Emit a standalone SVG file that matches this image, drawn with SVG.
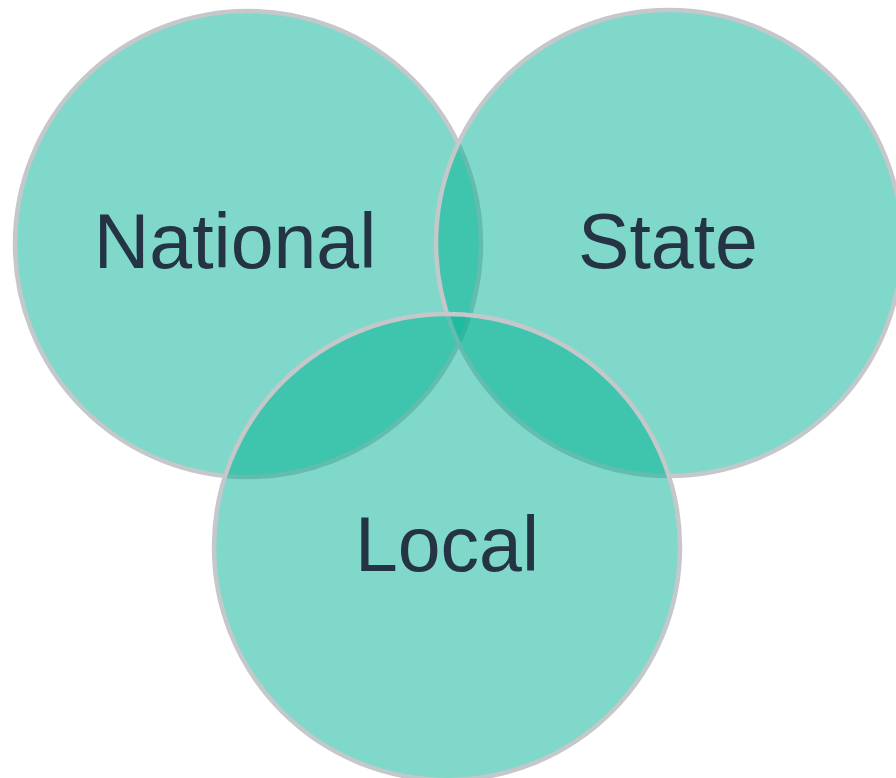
<svg xmlns="http://www.w3.org/2000/svg" width="896" height="778" viewBox="0 0 896 778">
  <style>
    .c { fill: #00B293; fill-opacity: 0.5; stroke: #C4C8CA; stroke-width: 4.5; }
    .t { font-family: "Liberation Sans", Arial, sans-serif; font-size: 77px; fill: #253444; text-anchor: middle; }
  </style>
  <rect width="896" height="778" fill="#FFFFFF"/>
  <g id="national">
    <circle class="c" cx="248" cy="244" r="233"/>
    <text class="t" x="235" y="268">National</text>
  </g>
  <g id="state">
    <circle class="c" cx="669" cy="243" r="233"/>
    <text class="t" x="668" y="268">State</text>
  </g>
  <g id="local">
    <circle class="c" cx="447" cy="547" r="233"/>
    <text class="t" x="447" y="571">Local</text>
  </g>
  <g id="connectors"/>
</svg>
